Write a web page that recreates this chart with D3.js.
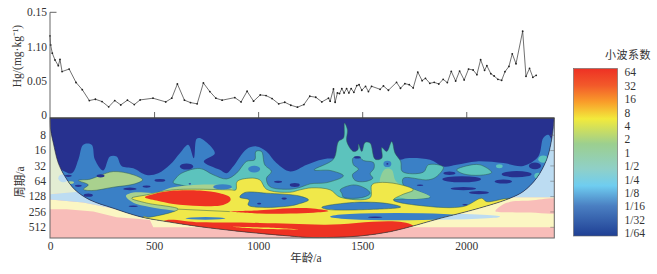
<!DOCTYPE html>
<html lang="en">
<head>
<meta charset="UTF-8"/>
<title>Hg wavelet</title>
<script src="https://d3js.org/d3.v7.min.js"></script>
<style>
body { margin: 0; background: #fff; }
text { font-family: "Liberation Serif", serif; fill: #333; }
.cjk { font-family: "Noto Sans CJK SC", sans-serif; }
.axis path, .axis line { stroke: #666; }
</style>
</head>
<body>
<div id="chart"></div>
<script>
// Hg record
var hgAge = [0,3,11,24,40,48,58,92,125,155,189,218,250,282,311,340,372,405,433,495,556,585,612,646,675,707,737,768,797,827,888,918,947,978,1010,1038,1067,1099,1128,1157,1189,1220,1248,1277,1306,1338,1346,1362,1370,1381,1391,1402,1413,1425,1436,1447,1460,1474,1485,1498,1516,1530,1545,1586,1602,1626,1665,1684,1705,1726,1745,1767,1788,1804,1825,1846,1868,1889,1909,1928,1949,1968,1990,2011,2033,2051,2069,2088,2099,2118,2134,2152,2170,2186,2205,2221,2239,2271,2287,2304,2320,2336];
var hgValue = [.1154,.102,.09,.08,.0716,.081,.063,.0667,.047,.0365,.0205,.0224,.019,.0112,.0205,.0141,.021,.0146,.0214,.0239,.0185,.0239,.0448,.021,.0175,.0156,.0463,.0336,.0239,.021,.0248,.0185,.0341,.0195,.0287,.0278,.0234,.0156,.018,.0136,.0107,.0146,.0268,.0253,.0185,.0239,.0195,.0375,.018,.0317,.0307,.038,.0317,.038,.0317,.038,.0326,.0424,.0438,.0356,.0414,.0336,.0414,.037,.0419,.0356,.0472,.0385,.0453,.0438,.039,.0623,.0497,.0531,.0458,.0472,.0448,.0516,.0468,.0633,.0492,.0638,.0507,.0667,.0653,.0585,.0804,.0648,.0716,.0599,.0565,.0516,.0502,.0628,.0706,.0891,.0745,.1223,.056,.0677,.0546,.0575];

var hgTicks = [0, 0.05, 0.10, 0.15];
var hgTickLabels = ["0", "0.05", "1.10", "0.15"];
var ageTicks = [0, 500, 1000, 1500, 2000];
var periodTicks = [8, 16, 32, 64, 128, 256, 512];
var legendLabels = ["64","32","16","8","4","2","1","1/2","1/4","1/8","1/16","1/32","1/64"];

// contours below are [age, log2(period)]
var coi = [[0,1.91],[3,2.67],[16,3.54],[40,4.85],[72,5.72],[120,6.59],[192,7.25],[304,7.79],[432,8.34],[560,8.66],[720,8.99],[880,9.25],[1008,9.43],[1152,9.6],[1234,9.69],[1362,9.69],[1490,9.6],[1634,9.32],[1762,8.88],[1874,8.45],[2002,8.01],[2114,7.58],[2210,7.14],[2274,6.7],[2338,5.83],[2386,4.63],[2410,3.33],[2423,1.91]];

// faded part outside the cone of influence
var paleYellow = [[-20,7.2],[160,7.42],[304,7.81],[1200,7.5],[2210,7.07],[2450,7.07],[2450,9.03],[496,9.03],[480,8.56],[432,8.49],[320,8.38],[208,8.01],[80,7.86],[-20,7.86]];
var paleBlueLeft = [[-20,6.9],[120,6.7],[240,7.14],[304,7.81],[160,7.42],[-20,7.2]];
var paleBlueRight = [[2300,1.9],[2450,1.9],[2450,7.07],[2210,7.07],[2000,7]];
var paleGreen = [[-20,2.5],[60,2.5],[150,6.7],[-20,6.9]];
var palePink = [[2140,7.99],[2194,7.44],[2310,7.29],[2450,7.25],[2450,8.03],[2310,8.07],[2194,8.05]];

var blueMain = [[-100,5.18],[32,5.18],[104,5.51],[136,4.63],[160,3.65],[200,3.65],[216,4.63],[256,5.33],[288,4.42],[320,4.42],[344,5.03],[400,5.18],[464,5.62],[520,5.51],[576,4.96],[624,4.2],[664,3.65],[691,4.53],[704,3.28],[720,3.22],[792,4.2],[739,4.74],[816,5.29],[848,5.51],[880,5.07],[944,3.94],[992,3.76],[1040,4.09],[1088,4.85],[1154,5.4],[1234,4.96],[1314,4.59],[1474,4.63],[1682,4.63],[1714,4.53],[1826,4.63],[1890,5.07],[1954,4.96],[2050,4.74],[2178,4.85],[2274,5.03],[2346,4.42],[2370,3.22],[2394,3.0],[2418,3.54],[2500,5],[2500,11],[-100,11]];
var tealMain = [[605,5.83],[632,5.51],[720,5.2],[784,5.61],[848,5.88],[896,5.51],[944,4.74],[984,4.63],[989,4.09],[1016,4.09],[1032,4.96],[1064,5.4],[1040,5.83],[1056,6.38],[1152,6.55],[1202,6.43],[1250,6.2],[1330,6.12],[1410,5.68],[1346,5.33],[1269,5.29],[1362,4.59],[1386,3.44],[1410,3.22],[1415,2.24],[1429,2.67],[1426,3.44],[1458,4.09],[1479,3.98],[1482,3.61],[1498,4.09],[1514,3.5],[1538,3.54],[1562,4.59],[1594,4.53],[1594,3.83],[1618,4.09],[1642,3.44],[1658,4.2],[1685,4.74],[1693,5.4],[1794,5.44],[1818,4.96],[1890,5.11],[1858,5.72],[1818,5.94],[1698,5.83],[1698,6.27],[1754,6.59],[1826,7.07],[1682,7.2],[1314,7.58],[1154,7.03],[880,6.7],[784,6.59],[632,6.29],[592,6.12]];
var tealRight = [[1954,5.29],[2002,5.03],[2066,4.96],[2122,5.46],[2066,5.64],[1986,5.55]];
var greenEdge = [[365,6.99],[400,6.77],[512,6.77],[592,6.42],[880,6.55],[880,7.9],[432,7.58],[384,7.29]];
var greenLeft = [[136,5.98],[192,5.9],[240,5.66],[304,5.4],[400,5.61],[445,5.94],[408,6.2],[304,6.42],[200,6.64],[160,6.55],[184,6.27]];
var greenMid = [[1610,5.24],[1642,5.29],[1663,6.05],[1746,6.55],[1826,7.03],[1698,7.14],[1586,6.27]];
var yellowMain = [[392,7.14],[464,6.92],[592,6.59],[864,6.59],[893,6.59],[899,6.05],[960,5.83],[1008,5.94],[1040,6.55],[1152,6.75],[1202,6.59],[1258,6.46],[1346,6.59],[1394,7.07],[1538,7.1],[1546,6.27],[1578,6.12],[1666,6.2],[1746,6.59],[1690,6.92],[1650,7.25],[1794,7.64],[1986,7.68],[2074,7.14],[2098,7.36],[2218,7.16],[2370,8],[2434,10.5],[448,10.5],[448,8.34],[472,8.38],[616,7.85],[464,7.45]];
var bluePatches = [
  [[1455,4.53],[1482,4.42],[1506,4.68],[1554,4.81],[1557,5.18],[1538,5.55],[1551,5.83],[1514,6.05],[1466,5.98],[1453,5.61],[1482,5.24],[1458,4.96]],
  [[1394,6.6],[1458,6.27],[1514,6.49],[1538,6.81],[1506,7.07],[1410,7.07],[1402,6.81]],
  [[1306,7.73],[1474,7.4],[1634,7.51],[1685,7.71],[1554,7.86],[1330,7.86]],
  [[912,7.07],[936,6.77],[1040,6.81],[1200,7.0],[1242,7.25],[1194,7.51],[1152,7.64],[1008,7.73],[952,7.58],[957,7.25]]
];
var redPatches = [
  [[456,7.07],[512,6.81],[576,6.66],[720,6.64],[816,6.81],[864,7.07],[867,7.29],[832,7.58],[720,7.64],[592,7.51],[512,7.29]],
  [[864,8.01],[1008,7.92],[1154,7.79],[1250,7.79],[1338,7.97],[1266,8.08],[1154,8.14],[1008,8.14]],
  [[544,8.66],[720,8.71],[1008,8.75],[1314,8.86],[1746,8.93],[1794,10.5],[1154,10.5],[880,10],[544,9.4]]
];
var yellowStreak = [[864,9.0],[1040,9.05],[1194,9.18],[1040,9.15]];
var wedgeLine = [[616,7.85],[864,8.01]];

// ellipses are [age, log2(period), age radius, octave radius]
var paleBlobs = [[64,5.83,24,.26],[1794,8.34,368,.2]];
var tealBlobs = [[2159,5.05,16,.13],[2370,4.59,24,.24],[2346,5.68,19,.2]];
var greenBlobs = [[99,6.12,16,.09]];
var blueBlobs = [[1621,4.9,19,.2],[981,5.24,29,.22],[829,6.4,45,.17],[747,8.45,96,.09],[1666,8.34,320,.24]];
var navyBlobs = [[88,5.68,16,.07],[243,5.68,19,.11],[136,6.33,16,.07],[184,6.94,22,.11],[384,6.53,32,.09],[464,6.38,19,.07],[528,5.98,26,.09],[656,5.07,32,.2],[1096,6.07,19,.07],[1176,6.27,24,.13],[400,7.66,22,.05],[1125,7.16,13,.07],[1005,7.49,10,.05],[672,6.2,6,.04],[1919,5.51,29,.11],[1978,5.9,93,.2],[2178,6.05,42,.13],[1986,6.51,61,.11],[2061,6.77,48,.11],[1778,6.29,16,.05],[1994,7.57,13,.05],[2242,5.57,72,.2],[2330,5.03,29,.22],[1562,8.38,35,.05],[1477,4.48,16,.07],[1621,4.9,5,.05]];

var legendStops = [[0,"#ee3124"],[0.1,"#f2592a"],[0.2,"#f99d2a"],[0.3,"#f2ea3c"],[0.45,"#9ccf8f"],[0.6,"#8fd0c8"],[0.7,"#6fcdf0"],[0.82,"#4a7fc2"],[1,"#1f3f94"]];

var navy = "#27318f", blue = "#3a80c6", teal = "#5cc3bd", green = "#a9d18e", yellow = "#f0e84a", red = "#ee3223";
var edge = "#2f5a4c";

var width = 657, height = 274;
var left = 50, right = 554.3;
var topY = 118, bottomY = 238;

var svg = d3.select("#chart").append("svg")
    .attr("width", width)
    .attr("height", height)
    .style("display", "block");

var x = d3.scaleLinear().domain([0, 2423]).range([left, right]);
var yHg = d3.scaleLinear().domain([0, 0.15]).range([114.5, 12.3]);
var yPeriod = d3.scaleLog().base(2).domain([Math.pow(2, 1.91), Math.pow(2, 9.73)]).range([topY, bottomY]);

function py(o) { return yPeriod(Math.pow(2, o)); }

var smooth = d3.line().x(function(d) { return x(d[0]); }).y(function(d) { return py(d[1]); }).curve(d3.curveCatmullRomClosed.alpha(0.5));
var straight = d3.line().x(function(d) { return x(d[0]); }).y(function(d) { return py(d[1]); });
var coiLine = d3.line().x(function(d) { return x(d[0]); }).y(function(d) { return py(d[1]); }).curve(d3.curveCatmullRom.alpha(0.5));

var defs = svg.append("defs");
defs.append("clipPath").attr("id", "panel").append("rect")
    .attr("x", left).attr("y", topY).attr("width", right - left).attr("height", bottomY - topY);
defs.append("clipPath").attr("id", "cone").append("path").attr("d", coiLine(coi) + "Z");

// outside the cone
var outer = svg.append("g").attr("clip-path", "url(#panel)");
outer.append("rect").attr("x", left).attr("y", topY).attr("width", right - left).attr("height", bottomY - topY).attr("fill", "#f8bdb9");
function outerArea(pts, col) { outer.append("path").attr("d", straight(pts) + "Z").attr("fill", col); }
outerArea(paleYellow, "#fbf6c3");
outerArea(paleBlueLeft, "#bcdcf2");
outerArea(paleBlueRight, "#bcdcf2");
outerArea(paleGreen, "#e3edd3");
outer.append("path").attr("d", smooth(palePink)).attr("fill", "#f8bdb9");

function blobs(g, list, col) {
    g.selectAll(null).data(list).enter().append("ellipse")
        .attr("cx", function(d) { return x(d[0]); })
        .attr("cy", function(d) { return py(d[1]); })
        .attr("rx", function(d) { return x(d[0] + d[2]) - x(d[0]); })
        .attr("ry", function(d) { return py(d[1] + d[3]) - py(d[1]); })
        .attr("fill", col);
}
blobs(outer, paleBlobs, "#bcdcf2");

// inside the cone
var inner = svg.append("g").attr("clip-path", "url(#cone)");
inner.append("rect").attr("x", left).attr("y", topY).attr("width", right - left).attr("height", bottomY - topY).attr("fill", navy);

function area(pts, col, lined) {
    var p = inner.append("path").attr("d", smooth(pts)).attr("fill", col);
    if (lined) p.attr("stroke", edge).attr("stroke-width", 0.5);
}
area(blueMain, blue, false);
area(tealRight, teal, true);
blobs(inner, tealBlobs, teal);
area(tealMain, teal, true);
area(greenEdge, green, false);
area(greenLeft, green, true);
area(greenMid, "#8fcf9a", false);
blobs(inner, greenBlobs, green);
area(yellowMain, yellow, true);
bluePatches.forEach(function(p) { area(p, blue, true); });
blobs(inner, blueBlobs, blue);
redPatches.forEach(function(p) { area(p, red, false); });
area(yellowStreak, yellow, false);
inner.append("path").attr("d", straight(wedgeLine)).attr("fill", "none").attr("stroke", edge).attr("stroke-width", 0.5);
blobs(inner, navyBlobs, navy);

svg.append("path").attr("d", coiLine(coi)).attr("fill", "none").attr("stroke", "#223").attr("stroke-width", 0.6);
svg.append("rect").attr("x", left).attr("y", topY).attr("width", right - left).attr("height", bottomY - topY)
    .attr("fill", "none").attr("stroke", "#666").attr("stroke-width", 1);

// Hg line
var hgData = hgAge.map(function(a, i) { return [a, hgValue[i]]; });
svg.append("path")
    .attr("d", d3.line().x(function(d) { return x(d[0]); }).y(function(d) { return yHg(d[1]); })(hgData))
    .attr("fill", "none").attr("stroke", "#333").attr("stroke-width", 0.7);
svg.selectAll("circle.pt").data(hgData).enter().append("circle")
    .attr("class", "pt")
    .attr("cx", function(d) { return x(d[0]); })
    .attr("cy", function(d) { return yHg(d[1]); })
    .attr("r", 0.9).attr("fill", "#222");

// Axes
var gHg = svg.append("g").attr("class", "axis").attr("transform", "translate(" + left + ",0)")
    .call(d3.axisLeft(yHg).tickValues(hgTicks).tickSize(0).tickPadding(3)
        .tickFormat(function(d, i) { return hgTickLabels[i]; }));
gHg.select(".domain").remove();
gHg.selectAll("text").attr("font-size", "11.5px");
svg.append("line").attr("x1", left).attr("x2", left).attr("y1", 12.3).attr("y2", topY).attr("stroke", "#666");
svg.append("line").attr("x1", left).attr("x2", left + 6.5).attr("y1", yHg(0.15)).attr("y2", yHg(0.15)).attr("stroke", "#666");

var gTopTicks = svg.append("g").attr("class", "axis").attr("transform", "translate(0," + topY + ")")
    .call(d3.axisTop(x).tickValues(ageTicks.slice(1)).tickSize(6).tickFormat(""));
gTopTicks.select(".domain").remove();
svg.append("line").attr("x1", left).attr("x2", right).attr("y1", topY).attr("y2", topY).attr("stroke", "#333").attr("stroke-width", 1.2);

var gAge = svg.append("g").attr("class", "axis").attr("transform", "translate(0," + bottomY + ")")
    .call(d3.axisBottom(x).tickValues(ageTicks).tickSize(0).tickPadding(4).tickFormat(d3.format("d")));
gAge.select(".domain").remove();
gAge.selectAll("text").attr("font-size", "11.5px");

var gPeriod = svg.append("g").attr("class", "axis").attr("transform", "translate(" + left + ",0)")
    .call(d3.axisLeft(yPeriod).tickValues(periodTicks).tickSize(0).tickPadding(4).tickFormat(d3.format("d")));
gPeriod.select(".domain").remove();
gPeriod.selectAll("text").attr("font-size", "11.5px");

var gRight = svg.append("g").attr("class", "axis").attr("transform", "translate(" + right + ",0)")
    .call(d3.axisLeft(yPeriod).tickValues(periodTicks).tickSize(4).tickFormat(""));
gRight.select(".domain").remove();
gRight.selectAll("line").attr("stroke", "#999").attr("stroke-width", 0.5);

// Axis titles
svg.append("text").attr("transform", "translate(21,56)rotate(-90)").attr("text-anchor", "middle")
    .attr("font-size", "11.5px").text("Hg/(mg·kg⁻¹)");
var periodTitle = svg.append("text").attr("transform", "translate(24,182)rotate(-90)").attr("text-anchor", "middle").attr("font-size", "11.5px");
periodTitle.append("tspan").attr("class", "cjk").text("周期");
periodTitle.append("tspan").text("/a");
var ageTitle = svg.append("text").attr("x", 306).attr("y", 262).attr("text-anchor", "middle").attr("font-size", "11.5px");
ageTitle.append("tspan").attr("class", "cjk").text("年龄");
ageTitle.append("tspan").text("/a");

// Legend
var grad = defs.append("linearGradient").attr("id", "legendGrad").attr("x1", 0).attr("x2", 0).attr("y1", 0).attr("y2", 1);
grad.selectAll("stop").data(legendStops).enter().append("stop")
    .attr("offset", function(d) { return d[0]; })
    .attr("stop-color", function(d) { return d[1]; });
svg.append("rect").attr("x", 573.5).attr("y", 68.5).attr("width", 44).attr("height", 167.5)
    .attr("fill", "url(#legendGrad)").attr("stroke", "#666").attr("stroke-width", 0.6);
var yLegend = d3.scalePoint().domain(legendLabels).range([72.3, 233.3]);
svg.selectAll("text.lg").data(legendLabels).enter().append("text")
    .attr("class", "lg")
    .attr("x", 624.5)
    .attr("y", function(d) { return yLegend(d); })
    .attr("dy", "0.35em")
    .attr("font-size", "11.5px")
    .text(function(d) { return d; });
svg.append("text").attr("class", "cjk").attr("x", 605).attr("y", 59).attr("font-size", "11px")
    .attr("letter-spacing", "0.5px").text("小波系数");
</script>
</body>
</html>
